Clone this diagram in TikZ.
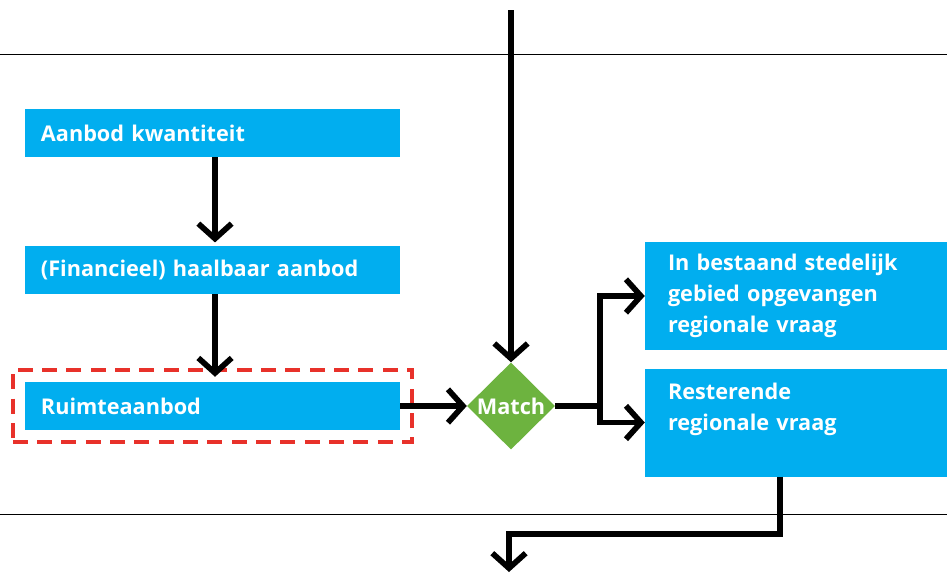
\documentclass[tikz,border=0pt]{standalone}
\usepackage{fontspec}
\setmainfont{Open Sans}
\usetikzlibrary{arrows.meta,shapes.geometric,fit}
\definecolor{roblue}{HTML}{01AEEF}
\definecolor{rogreen}{HTML}{6DB33F}
\definecolor{rored}{HTML}{E8312A}
\begin{document}
\begin{tikzpicture}[
        x=0.03cm, y=-0.03cm,
        every node/.style={font=\fontsize{18.5}{26.5}\selectfont\bfseries, text=white},
        block/.style={rectangle, fill=roblue, minimum width=11.25cm, minimum height=1.44cm,
                      inner xsep=0.48cm, inner ysep=0pt, text width=10.29cm, align=left},
        result/.style={rectangle, fill=roblue, minimum width=9.06cm, minimum height=3.24cm,
                       inner xsep=0.69cm, inner ysep=0pt, text width=7.68cm, align=left},
        matchbox/.style={diamond, fill=rogreen, minimum width=2.64cm, minimum height=2.61cm,
                         inner sep=0pt, aspect=1},
        focus/.style={draw=rored, line width=0.11cm, dash pattern=on 0.45cm off 0.28cm, inner sep=0.36cm},
        flow/.style={draw=black, line width=0.17cm, -{Straight Barb[length=0.45cm,width=1cm]}},
        rule/.style={draw=black, line width=0.6pt}
    ]
        \useasboundingbox (0,0) rectangle (947,574);

        \draw[rule] (0,54)  -- (947,54);
        \draw[rule] (0,514) -- (947,514);

        \node[block] (kwant)  at (212.5,133) {Aanbod kwantiteit};
        \node[block] (haal)   at (212.5,270) {(Financieel) haalbaar aanbod};
        \node[block] (ruimte) at (212.5,406) {Ruimteaanbod};
        \node[focus, fit=(ruimte)] (kader) {};

        \node[matchbox] (match) at (511,406) {Match};

        \node[result] (stedelijk) at (796,296)   {In bestaand stedelijk\\gebied opgevangen\\regionale vraag};
        \node[result] (rest)      at (796,422.5) {Resterende\\regionale vraag\\\mbox{}};

        \coordinate (in)   at (511,10);
        \coordinate (bend) at (780,534);
        \coordinate (out)  at (509,572);

        \draw[flow] ([xshift=0.075cm]kwant.south) -- ([xshift=0.075cm,yshift=0.1cm]haal.north);
        \draw[flow] ([xshift=0.075cm]haal.south) -- ([xshift=0.075cm,yshift=0.15cm]ruimte.north);
        \draw[flow] (ruimte.east) -- (match.west);
        \draw[flow] (in) -- (match.north);
        \draw[flow] (match.east) -- ++(45,0) |- (stedelijk.west);
        \draw[flow] (match.east) -- ++(45,0) |- (rest.west);
        \draw[flow] (rest.south -| bend) -- (bend) -| (out);

    \end{tikzpicture}
\end{document}
